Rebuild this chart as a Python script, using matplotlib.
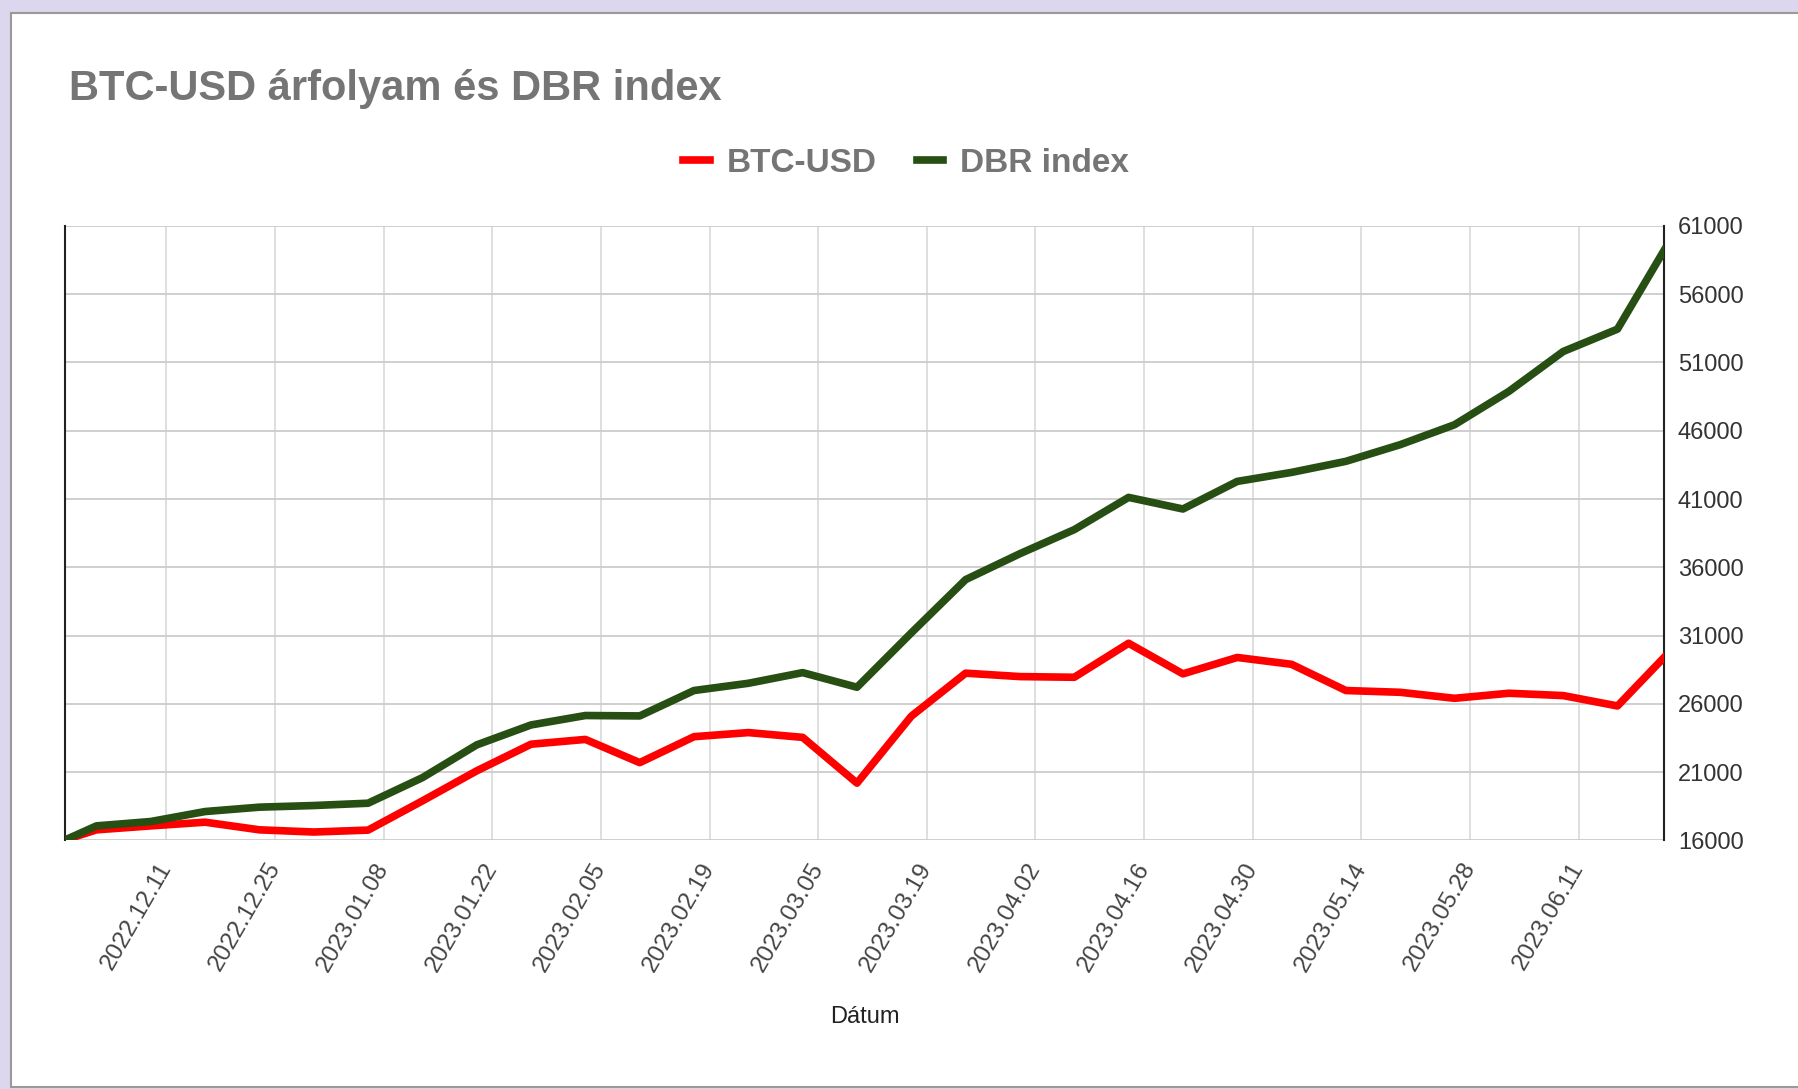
import pandas as pd
import matplotlib
matplotlib.use("Agg")
import matplotlib.pyplot as plt
import matplotlib.dates as mdates
from matplotlib.patches import Rectangle

# weekly values
dates = ["2022-11-28", "2022-12-02", "2022-12-09", "2022-12-16", "2022-12-23",
         "2022-12-30", "2023-01-06", "2023-01-13", "2023-01-20", "2023-01-27",
         "2023-02-03", "2023-02-10", "2023-02-17", "2023-02-24", "2023-03-03",
         "2023-03-10", "2023-03-17", "2023-03-24", "2023-03-31", "2023-04-07",
         "2023-04-14", "2023-04-21", "2023-04-28", "2023-05-05", "2023-05-12",
         "2023-05-19", "2023-05-26", "2023-06-02", "2023-06-09", "2023-06-16",
         "2023-06-22"]

btc_usd = [16050, 16780, 17070, 17340, 16780, 16620, 16760, 18900, 21100, 23050,
           23400, 21700, 23600, 23900, 23550, 20200, 25100, 28250, 28000, 27950,
           30440, 28200, 29400, 28900, 26980, 26850, 26410, 26780, 26610, 25850,
           29400]

dbr_index = [16050, 17070, 17390, 18120, 18440, 18560, 18730, 20600, 23000, 24460,
             25150, 25120, 26980, 27510, 28290, 27220, 31200, 35100, 37000, 38760,
             41120, 40270, 42290, 42950, 43760, 44980, 46440, 48880, 51800, 53440,
             59200]

tick_dates = ["2022-12-11", "2022-12-25", "2023-01-08", "2023-01-22", "2023-02-05",
              "2023-02-19", "2023-03-05", "2023-03-19", "2023-04-02", "2023-04-16",
              "2023-04-30", "2023-05-14", "2023-05-28", "2023-06-11"]
y_ticks = [16000, 21000, 26000, 31000, 36000, 41000, 46000, 51000, 56000, 61000]

x = pd.to_datetime(dates)
plt.rcParams['font.family'] = ['Liberation Sans', 'DejaVu Sans']

fig = plt.figure(figsize=(17.98, 10.89), dpi=100, facecolor='#dcd6ee')
# white chart panel with grey frame, kept behind the axes
fig.patches.append(Rectangle((11 / 1798, 2 / 1089), 1.0, 1 - 15 / 1089,
                             transform=fig.transFigure, facecolor='white',
                             edgecolor='#9a9a9a', linewidth=1.5, zorder=-10))

ax = fig.add_axes([0.0364, 0.2282, 0.8891, 0.5644])
ax.set_zorder(1)
ax.set_facecolor('white')

ax.plot(x, btc_usd, color='#ff0000', linewidth=5.5, label='BTC-USD', zorder=3)
ax.plot(x, dbr_index, color='#274e13', linewidth=5.5, label='DBR index', zorder=4)

ax.set_xlim(x[0], x[-1])
ax.set_ylim(16000, 61000)
ax.set_yticks(y_ticks)
ax.set_xticks(pd.to_datetime(tick_dates))
ax.xaxis.set_major_formatter(mdates.DateFormatter('%Y.%m.%d'))

ax.yaxis.tick_right()
ax.tick_params(axis='y', length=0, pad=10, labelsize=17, labelcolor='#333333')
ax.tick_params(axis='x', length=0, pad=17, labelsize=17.5, labelcolor='#444444')
for lbl in ax.get_xticklabels():
    lbl.set_rotation(60)
    lbl.set_rotation_mode('anchor')
    lbl.set_ha('right')
    lbl.set_va('center')

ax.grid(axis='y', color='#cccccc', linewidth=1.3)
ax.grid(axis='x', color='#d6d6d6', linewidth=1.1)
ax.set_axisbelow(True)
for side in ['top', 'bottom']:
    ax.spines[side].set_visible(False)
for side in ['left', 'right']:
    ax.spines[side].set_color('#222222')
    ax.spines[side].set_linewidth(1.5)

fig.text(0.0384, 0.908, 'BTC-USD árfolyam és DBR index', fontsize=30,
         fontweight='bold', color='#757575', va='baseline', ha='left')

leg = fig.legend(loc='center', bbox_to_anchor=(0.504, 0.850), ncol=2, frameon=False,
                 fontsize=24, handlelength=0.8, handletextpad=0.5, columnspacing=1.2)
for t in leg.get_texts():
    t.set_color('#757575')
    t.set_fontweight('bold')

fig.text(0.0364 + 0.8891 / 2, 0.066, 'Dátum', fontsize=17, color='#222222',
         ha='center', va='center')

fig.savefig('out.png', dpi=100, facecolor=fig.get_facecolor())
